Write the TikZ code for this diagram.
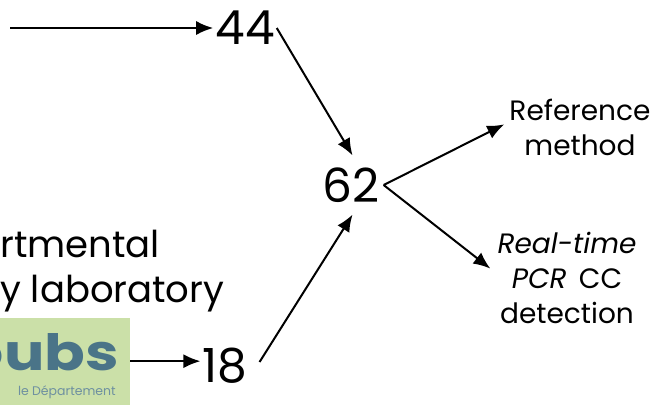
\documentclass[tikz,border=0pt]{standalone}
\usepackage{fontspec}
\setmainfont{Poppins}
\definecolor{logogreen}{HTML}{CBE0A8}
\definecolor{logoblue}{HTML}{4A7488}
\usetikzlibrary{arrows.meta}
\tikzset{
  link/.style={draw,line width=2pt,-{Latex[length=17pt,width=14pt]}},
  count/.style={font=\fontsize{47}{47}\selectfont,inner sep=2pt},
  label/.style={font=\fontsize{28}{35}\selectfont,align=center,inner sep=7pt},
  caption/.style={anchor=base west,inner sep=0,font=\fontsize{37}{37}\selectfont},
}
\begin{document}
\begin{tikzpicture}[x=1pt,y=-1pt]
\useasboundingbox (0,0) rectangle (657,405);
% logo
\node [fill=logogreen,minimum width=130pt,minimum height=87pt,inner sep=0,anchor=north west] (logo) at (0,318) {};
\node [logoblue,anchor=base east,inner sep=0,font=\fontsize{50}{50}\selectfont\bfseries] (logoname) at (119,370) {\scalebox{1.2}[1]{oubs}};
\node [logoblue!80,anchor=base east,inner sep=0,font=\fontsize{12.5}{12.5}\selectfont] (logosub) at (116,395) {le Département};
% text
\node [caption] (lab1) at (0,257) {rtmental};
\node [caption] (lab2) at (0,302) {y laboratory};
% counts
\node [count] (n44) at (245,28) {44};
\node [count,inner xsep=4pt,inner ysep=12pt] (n62) at (351,185) {62};
\node [count] (n18) at (225,365.5) {18};
\coordinate (out18) at ([xshift=10pt,yshift=3.5pt]n18.east);
\node [label,inner sep=5pt] (refm) at (580,127) {Reference\\method};
\node [label] (pcr) at (567,278) {\textit{Real-time}\\\textit{PCR}\, CC\\detection};
\coordinate (start) at (10,28);
% arrows
\draw [link] (start) -- (n44);
\draw [link] (logo.east |- n18.170) -- (n18.170);
\draw [link] (n44.east) -- (n62.87);
\draw [link] (out18) -- (n62.273);
\draw [link] (n62.east) -- (refm.178);
\draw [link] (n62.east) -- (pcr.173);
\end{tikzpicture}
\end{document}
